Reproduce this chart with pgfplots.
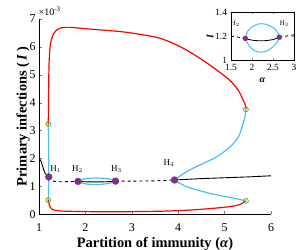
\documentclass[border=0pt]{standalone}
\usepackage{fontspec}
\setmainfont{Liberation Serif}
\usepackage{pgfplots}
\pgfplotsset{compat=1.18}
\definecolor{mred}{RGB}{255,0,0}
\definecolor{mblue}{RGB}{77,190,238}
\definecolor{mpurp}{RGB}{126,47,142}
\definecolor{mgreen}{RGB}{119,172,48}
\begin{document}
\begin{tikzpicture}
\path[use as bounding box] (0,0) rectangle (300bp,250bp);
\begin{axis}[
  at={(39bp,35.7bp)}, anchor=south west,
  scale only axis, width=232bp, height=195.3bp,
  xmin=1, xmax=6, ymin=0, ymax=7,
  xtick={1,2,3,4,5,6}, ytick={0,1,2,3,4,5,6,7},
  axis x line*=bottom, axis y line*=left, axis line style={-},
  tick align=inside, major tick length=3bp,
  /pgf/number format/assume math mode=true,
  tick label style={font=\fontsize{12}{12}\selectfont},
  xticklabel style={yshift=-6bp},
  xlabel={\textbf{Partition of immunity (\textit{α})}},
  ylabel={\textbf{Primary infections (\,\textit{I}\,)}},
  label style={font=\fontsize{14.5}{14.5}\selectfont},
  xlabel style={yshift=1bp},
  ylabel style={yshift=-7bp},
  clip=false,
]
% red top
\addplot[mred, line width=1.2pt, smooth, tension=0.5] coordinates {
(1.2,3.24)(1.205,4.0)(1.21,4.8)(1.22,5.53)(1.25,6.13)(1.32,6.49)(1.45,6.67)(1.67,6.70)(1.88,6.67)(2.31,6.61)(2.75,6.55)(3.18,6.45)(3.61,6.31)(4.04,6.01)(4.47,5.59)(4.83,5.17)(5.12,4.79)(5.30,4.43)(5.40,4.09)(5.45,3.9)(5.46,3.76)};
% red bottom
\addplot[mred, line width=1.2pt, smooth, tension=0.5] coordinates {
(5.46,0.48)(5.33,0.35)(5.04,0.26)(4.33,0.16)(3.6,0.11)(2.5,0.09)(1.6,0.11)(1.35,0.14)(1.27,0.2)(1.225,0.32)(1.2,0.51)};
% blue left
\addplot[mblue, line width=1.2pt] coordinates {
(1.2,3.24)(1.205,2.5)(1.21,1.8)(1.21,1.34)(1.205,0.9)(1.2,0.51)};
% blue right upper
\addplot[mblue, line width=1.2pt, smooth, tension=0.5] coordinates {
(5.46,3.76)(5.44,3.5)(5.40,3.26)(5.30,2.78)(5.12,2.42)(4.83,2.06)(4.47,1.77)(4.18,1.53)(3.92,1.23)};
% blue right lower
\addplot[mblue, line width=1.2pt, smooth, tension=0.5] coordinates {
(3.92,1.23)(4.18,0.99)(4.68,0.75)(5.04,0.63)(5.30,0.54)(5.46,0.48)};
% blue loop
\addplot[mblue, line width=1.2pt, smooth] coordinates {
(1.84,1.18)(1.9,1.24)(2.0,1.275)(2.15,1.30)(2.3,1.30)(2.45,1.28)(2.57,1.25)(2.65,1.19)(2.6,1.15)(2.5,1.11)(2.35,1.075)(2.2,1.065)(2.05,1.08)(1.93,1.12)(1.84,1.18)};
% black
\addplot[black, line width=0.9pt, smooth] coordinates {
(1.0,1.99)(1.02,1.97)(1.05,1.88)(1.08,1.71)(1.13,1.47)(1.21,1.34)};
\addplot[black, line width=0.9pt, dashed, smooth] coordinates {
(1.21,1.34)(1.27,1.22)(1.38,1.17)(1.6,1.17)(1.84,1.18)};
\addplot[black, line width=0.9pt, smooth] coordinates {
(1.84,1.18)(2.0,1.165)(2.25,1.16)(2.5,1.17)(2.65,1.19)};
\addplot[black, line width=0.9pt, dashed, smooth] coordinates {
(2.65,1.19)(3.0,1.19)(3.5,1.2)(3.92,1.23)};
\addplot[black, line width=0.9pt] coordinates {
(3.92,1.23)(4.5,1.28)(5.0,1.31)(5.5,1.34)(6.0,1.38)};
% markers
\addplot[only marks, mark=*, mark size=3.4bp, mpurp] coordinates {(1.21,1.34)(1.84,1.18)(2.65,1.19)(3.92,1.23)};
\addplot[only marks, mark=o, mark size=2.4bp, mgreen, line width=0.9pt, mark options={fill=white}] coordinates {(1.2,3.24)(1.2,0.51)(5.46,3.76)(5.46,0.48)};
% labels
\node[font=\fontsize{9}{9}\selectfont] at (axis cs:1.36,1.62) {H$_1$};
\node[font=\fontsize{9}{9}\selectfont] at (axis cs:1.83,1.62) {H$_2$};
\node[font=\fontsize{9}{9}\selectfont] at (axis cs:2.67,1.62) {H$_3$};
\node[font=\fontsize{9}{9}\selectfont] at (axis cs:3.8,1.85) {H$_4$};
\node[font=\fontsize{10}{10}\selectfont, anchor=south west, inner sep=0pt] at (axis cs:0.99,7.12) {×10\textsuperscript{-3}};
\end{axis}
% inset
\begin{axis}[
  at={(231bp,190bp)}, anchor=south west,
  scale only axis, width=63bp, height=48bp,
  xmin=1.5, xmax=3, ymin=1, ymax=1.4,
  xtick={1.5,2,2.5,3}, ytick={1,1.2,1.4},
  tick align=inside, major tick length=2bp,
  axis background/.style={fill=white},
  /pgf/number format/assume math mode=true,
  /pgf/number format/fixed,
  yticklabel style={/pgf/number format/precision=1, /pgf/number format/fixed zerofill=false, xshift=-0.5bp},
  tick label style={font=\fontsize{9.5}{9.5}\selectfont},
  xticklabel style={yshift=-1bp},
  xlabel={\textbf{\textit{α}}},
  ylabel={\textbf{\textit{I}}},
  label style={font=\fontsize{10}{10}\selectfont},
  xlabel style={yshift=0bp},
  ylabel style={yshift=-5bp},
]
\addplot[mblue, line width=1pt, smooth] coordinates {
(1.84,1.18)(1.9,1.24)(2.0,1.275)(2.15,1.30)(2.3,1.30)(2.45,1.28)(2.57,1.25)(2.65,1.19)(2.6,1.15)(2.5,1.11)(2.35,1.075)(2.2,1.065)(2.05,1.08)(1.93,1.12)(1.84,1.18)};
\addplot[black, line width=0.8pt, dashed] coordinates {(1.5,1.2)(1.84,1.18)};
\addplot[black, line width=0.8pt, smooth] coordinates {
(1.84,1.18)(2.0,1.165)(2.25,1.16)(2.5,1.17)(2.65,1.19)};
\addplot[black, line width=0.8pt, dashed] coordinates {(2.65,1.19)(3.0,1.21)};
\addplot[only marks, mark=*, mark size=2.5bp, mpurp] coordinates {(1.84,1.18)(2.65,1.19)};
\node[font=\fontsize{7}{7}\selectfont] at (axis cs:1.6,1.30) {H$_2$};
\node[font=\fontsize{7}{7}\selectfont] at (axis cs:2.77,1.30) {H$_3$};
\node[font=\fontsize{8}{8}\selectfont, anchor=south west, inner sep=0pt] at (axis cs:1.5,1.405) {×10\textsuperscript{-3}};
\end{axis}
\end{tikzpicture}
\end{document}
